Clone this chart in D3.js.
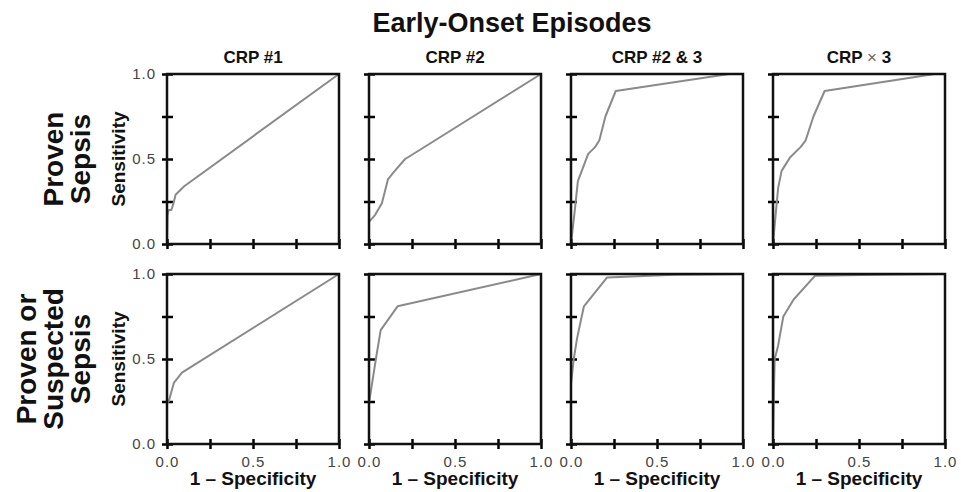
<!DOCTYPE html>
<html>
<head>
<meta charset="utf-8">
<script src="https://cdn.jsdelivr.net/npm/d3@7/dist/d3.min.js"></script>
<style>
  body { margin: 0; background: #fff; }
  svg { display: block; font-family: "Liberation Sans", Arial, Helvetica, sans-serif; }
</style>
</head>
<body>
<div id="chart"></div>
<script>
// chart values
const title = "Early-Onset Episodes";
const columnTitles = ["CRP #1", "CRP #2", "CRP #2 & 3", "CRP \u00d7 3"];
const rowTitles = [["Proven", "Sepsis"], ["Proven or", "Suspected", "Sepsis"]];
const yLabel = "Sensitivity";
const xLabel = "1 \u2013 Specificity";
const tickValues = [0, 0.25, 0.5, 0.75, 1];
const labelledTicks = [0, 0.5, 1];

// ROC curves: [1 - specificity, sensitivity]
const provenCrp1 = [[0, 0], [0.003, 0.17], [0.01, 0.2], [0.025, 0.2], [0.035, 0.23], [0.05, 0.29], [0.1, 0.34], [1, 1]];
const provenCrp2 = [[0, 0], [0, 0.13], [0.035, 0.17], [0.075, 0.24], [0.11, 0.38], [0.15, 0.43], [0.21, 0.5], [0.29, 0.55], [1, 1]];
const provenCrp23 = [[0, 0], [0.02, 0.18], [0.04, 0.37], [0.1, 0.53], [0.14, 0.57], [0.165, 0.61], [0.2, 0.75], [0.26, 0.9], [0.92, 1], [1, 1]];
const provenCrpX3 = [[0, 0], [0.016, 0.18], [0.03, 0.33], [0.05, 0.43], [0.1, 0.51], [0.16, 0.57], [0.19, 0.61], [0.235, 0.75], [0.3, 0.9], [0.94, 1], [1, 1]];
const suspectedCrp1 = [[0, 0], [0, 0.24], [0.01, 0.25], [0.04, 0.36], [0.087, 0.42], [1, 1]];
const suspectedCrp2 = [[0, 0], [0, 0.24], [0.02, 0.37], [0.04, 0.5], [0.068, 0.67], [0.166, 0.81], [1, 1]];
const suspectedCrp23 = [[0, 0], [0, 0.35], [0.016, 0.5], [0.035, 0.62], [0.075, 0.81], [0.21, 0.98], [0.6, 0.995], [1, 1]];
const suspectedCrpX3 = [[0, 0], [0.005, 0.3], [0.01, 0.5], [0.03, 0.58], [0.06, 0.75], [0.12, 0.85], [0.245, 0.99], [0.61, 0.995], [1, 1]];

const curves = [
  [provenCrp1, provenCrp2, provenCrp23, provenCrpX3],
  [suspectedCrp1, suspectedCrp2, suspectedCrp23, suspectedCrpX3]
];

// layout
const width = 961, height = 492;
const panelW = 172, panelH = 170;
const panelLeft = 167, panelStep = 202;
const rowTops = [74, 274];

const x = d3.scaleLinear().domain([0, 1]).range([0, panelW]);
const y = d3.scaleLinear().domain([0, 1]).range([panelH, 0]);

const line = d3.line().x(d => x(d[0])).y(d => y(d[1]));

const fmt = d => labelledTicks.includes(d) ? d3.format(".1f")(d) : "";

const svg = d3.select("#chart").append("svg")
  .attr("width", width)
  .attr("height", height);

svg.append("text")
  .attr("x", 512)
  .attr("y", 32)
  .attr("text-anchor", "middle")
  .attr("font-size", 27)
  .attr("font-weight", "bold")
  .attr("fill", "#111")
  .text(title);

// column headers
columnTitles.forEach((t, i) => {
  const txt = svg.append("text")
    .attr("x", panelLeft + i * panelStep + panelW / 2)
    .attr("y", 63)
    .attr("text-anchor", "middle")
    .attr("font-size", 17)
    .attr("font-weight", "bold")
    .attr("fill", "#111");
  // the times sign is drawn light
  t.split(/(\u00d7)/).forEach(part => {
    txt.append("tspan")
      .attr("font-weight", part == "\u00d7" ? "normal" : "bold")
      .attr("fill", part == "\u00d7" ? "#666" : "#111")
      .text(part);
  });
});

rowTitles.forEach((lines, r) => {
  const cy = rowTops[r] + panelH / 2;
  const lastBase = 90;
  const rt = svg.append("text")
    .attr("transform", "translate(0," + cy + ") rotate(-90)")
    .attr("text-anchor", "middle")
    .attr("font-size", 28)
    .attr("font-weight", "bold")
    .attr("fill", "#111");
  lines.forEach((l, k) => {
    rt.append("tspan")
      .attr("x", 0)
      .attr("y", lastBase - (lines.length - 1 - k) * 27)
      .text(l);
  });

  // y title
  svg.append("text")
    .attr("transform", "translate(125," + cy + ") rotate(-90)")
    .attr("text-anchor", "middle")
    .attr("font-size", 19)
    .attr("font-weight", "bold")
    .attr("fill", "#111")
    .text(yLabel);

  curves[r].forEach((data, c) => {
    const g = svg.append("g")
      .attr("transform", "translate(" + (panelLeft + c * panelStep) + "," + rowTops[r] + ")");

    const yAxis = d3.axisLeft(y)
      .tickValues(tickValues)
      .tickSize(5)
      .tickSizeOuter(0)
      .tickPadding(6)
      .tickFormat(c == 0 ? fmt : "");
    const ya = g.append("g").call(yAxis);
    ya.select(".domain").remove();
    ya.selectAll(".tick line").attr("x1", 6).attr("stroke", "#000").attr("stroke-width", 2.5);
    ya.selectAll(".tick text")
      .attr("font-size", 15)
      .attr("letter-spacing", 1)
      .attr("fill", "#444")
      .attr("font-family", "\"Liberation Sans\", Arial, sans-serif");

    const xAxis = d3.axisBottom(x)
      .tickValues(tickValues)
      .tickSize(5)
      .tickSizeOuter(0)
      .tickPadding(7)
      .tickFormat(r == 1 ? fmt : "");
    const xa = g.append("g").attr("transform", "translate(0," + panelH + ")").call(xAxis);
    xa.select(".domain").remove();
    xa.selectAll(".tick line").attr("y1", -5).attr("stroke", "#000").attr("stroke-width", 2.5);
    xa.selectAll(".tick text")
      .attr("font-size", 15)
      .attr("letter-spacing", 1)
      .attr("fill", "#444")
      .attr("font-family", "\"Liberation Sans\", Arial, sans-serif");

    g.append("path")
      .datum(data)
      .attr("d", line)
      .attr("fill", "none")
      .attr("stroke", "#8a8a8a")
      .attr("stroke-width", 2)
      .attr("stroke-linejoin", "round");

    g.append("rect")
      .attr("width", panelW)
      .attr("height", panelH)
      .attr("fill", "none")
      .attr("stroke", "#111")
      .attr("stroke-width", 2.5);

    if (r == 1) {
      g.append("text")
        .attr("x", panelW / 2)
        .attr("y", panelH + 41)
        .attr("text-anchor", "middle")
        .attr("font-size", 19)
        .attr("font-weight", "bold")
        .attr("fill", "#111")
        .text(xLabel);
    }
  });
});
</script>
</body>
</html>
